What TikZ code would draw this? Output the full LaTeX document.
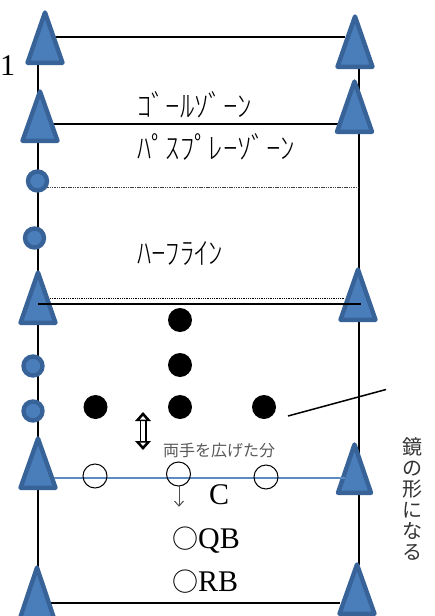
\documentclass[tikz,border=0pt]{standalone}
\usepackage{fontspec}
\newfontfamily\cjk{Noto Sans CJK JP}
\newfontfamily\cjkthin[UprightFont=* Light,FakeStretch=0.94]{Noto Sans CJK JP}
\newfontfamily\latinserif{Liberation Serif}
\definecolor{bluefill}{HTML}{4A7EBB}
\definecolor{blueedge}{HTML}{386398}
\newcommand{\conetri}[5]{% name, x, apex y, base y, half width
  \path[conestyle] (#2,#3+2.5) -- (#2+#5-2.5,#4-2.2) -- (#2-#5+2.5,#4-2.2) -- cycle;
  \coordinate (#1) at (#2,#4);
}
\tikzset{
  conestyle/.style={fill=bluefill,draw=blueedge,line width=4.4pt,line join=round},
  markerdot/.style={circle,fill=bluefill,draw=blueedge,line width=4.4pt,minimum size=19pt,inner sep=0pt},
  offense/.style={circle,draw=black,fill=none,line width=1pt,minimum size=24pt,inner sep=0pt},
  defense/.style={circle,fill=black,minimum size=24pt,inner sep=0pt},
  fieldline/.style={line width=1.7pt,black},
  kana/.style={font=\cjkthin\fontsize{30.5}{30}\selectfont,inner sep=0pt,text=black},
  serifmark/.style={font=\latinserif\fontsize{30}{30}\selectfont,inner sep=0pt,anchor=base west},
}
\begin{document}
\begin{tikzpicture}[x=1pt,y=-1pt]
\useasboundingbox (0,0) rectangle (435,616);
\fill[white] (0,0) rectangle (435,616);
% field lines below the cones
\coordinate (lt) at (38,65); \coordinate (lb) at (38,570);
\coordinate (rt) at (359,69); \coordinate (rb) at (359,565);
\draw[fieldline] (lt) -- (lb);
\draw[fieldline] (rt) -- (rb);
\coordinate (a1) at (55,37); \coordinate (a2) at (345,37);
\coordinate (b1) at (50,124); \coordinate (b2) at (340,124);
\coordinate (c1) at (50,603); \coordinate (c2) at (340,603);
\draw[fieldline] (a1) -- (a2);
\draw[fieldline] (b1) -- (b2);
\draw[fieldline] (c1) -- (c2);
\coordinate (d1) at (45,187); \coordinate (d2) at (358,187);
\draw[black!75,line width=1pt,dash pattern=on 1.5pt off 0.8pt] (d1) -- (d2);
\coordinate (e1) at (50,298.5); \coordinate (e2) at (345,298.5);
\draw[black,line width=0.9pt,dash pattern=on 1pt off 0.8pt] (e1) -- (e2);
% cones
\conetri{L1}{45}{10}{65}{20}
\conetri{L2}{40}{89}{143}{20}
\conetri{L3}{38}{270}{325}{20}
\conetri{L4}{38}{436}{490}{20}
\conetri{L5}{37}{565}{622}{20}
\conetri{R1}{355}{14}{69}{20}
\conetri{R2}{354.5}{79}{134}{20}
\conetri{R3}{358}{267}{322}{20}
\conetri{R4}{354.5}{442}{495}{19}
\conetri{R5}{357}{562}{616}{20}
% lines above the cones
\coordinate (f1) at (38,304); \coordinate (f2) at (361,304);
\draw[fieldline] (f1) -- (f2);
\coordinate (g1) at (54,478); \coordinate (g2) at (345,478);
\draw[bluefill!90!white,line width=1.7pt] (g1) -- (g2);
% side markers
\node[markerdot] (m1) at (37.5,181) {};
\node[markerdot] (m2) at (34.5,238) {};
\node[markerdot] (m3) at (33,366) {};
\node[markerdot] (m4) at (33,411) {};
% defense
\node[defense] (d1a) at (180,320) {};
\node[defense] (d2a) at (180,365) {};
\node[defense] (d3a) at (95.5,407) {};
\node[defense] (d3b) at (180,407) {};
\node[defense] (d3c) at (264,407) {};
% offense
\node[offense] (o1) at (95,476) {};
\node[offense] (o2) at (178.5,474) {};
\node[offense] (o3) at (266,477) {};
% arrows
\draw[line width=7pt,black] (143,418) -- (143,444);
\draw[line width=3.6pt,white] (143,417) -- (143,445);
\fill[black] (135,421) -- (143,412) -- (151,421) -- cycle;
\fill[black] (135,441) -- (143,450) -- (151,441) -- cycle;
\fill[white] (140,419.5) -- (143,416) -- (146,419.5) -- cycle;
\fill[white] (140,442.5) -- (143,446) -- (146,442.5) -- cycle;
\coordinate (v1) at (179,485); \coordinate (v2) at (179,506);
\draw[black!70,line width=1pt] (v1) -- (v2);
\draw[black!70,line width=1pt] (174.5,501) -- (179,506) -- (183.5,501);
\coordinate (s1) at (288,416); \coordinate (s2) at (386,389.5);
\draw[line width=1.5pt] (s1) -- (s2);
% texts
\node[serifmark] (one) at (0,75) {1};
\node[kana,anchor=west] (goal) at (137,105) {ｺﾞｰﾙｿﾞｰﾝ};
\node[kana,anchor=west] (pass) at (137,147) {ﾊﾟｽﾌﾟﾚｰｿﾞｰﾝ};
\node[kana,anchor=west] (half) at (137,253) {ﾊｰﾌﾗｲﾝ};
\node[font=\cjk\fontsize{16}{16}\selectfont,text=black!65,inner sep=0pt,anchor=west] (span) at (163,450) {両手を広げた分};
\node[serifmark] (cc) at (209,504) {C};
\node[serifmark] (qb) at (172,548) {{\cjk\fontsize{26}{26}\selectfont ○}QB};
\node[serifmark] (rb) at (172,591) {{\cjk\fontsize{26}{26}\selectfont ○}RB};
\node[font=\cjk\fontsize{20}{21}\selectfont,text=black!80,align=center,inner sep=0pt,anchor=north] (mirror) at (412,437) {鏡\\の\\形\\に\\な\\る};
\end{tikzpicture}
\end{document}
